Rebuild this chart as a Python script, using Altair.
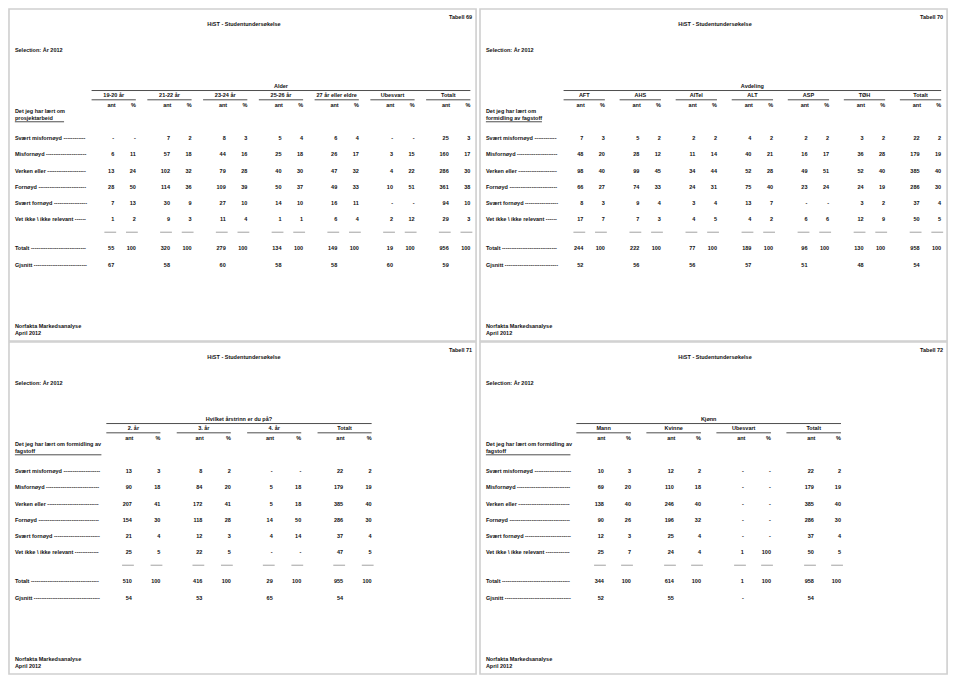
import altair as alt
import pandas as pd

# ---------------- data ----------------
row_labels = ["Svært misfornøyd", "Misfornøyd", "Verken eller", "Fornøyd",
              "Svært fornøyd", "Vet ikke \\ ikke relevant"]
total_label = "Totalt"
mean_label = "Gjsnitt"
report_title = "HiST - Studentundersøkelse"
selection_text = "Selection: År 2012"
footer_lines = ["Norfakta Markedsanalyse", "April 2012"]
sub_labels = ["ant", "%"]

t69_number = "Tabell 69"
t69_header = "Alder"
t69_stub = ["Det jeg har lært om", "prosjektarbeid"]
t69_groups = ["19-20 år", "21-22 år", "23-24 år", "25-26 år", "27 år eller eldre", "Ubesvart", "Totalt"]
t69_ant = [[None, 7, 8, 5, 6, None, 25],
           [6, 57, 44, 25, 26, 3, 160],
           [13, 102, 79, 40, 47, 4, 286],
           [28, 114, 109, 50, 49, 10, 361],
           [7, 30, 27, 14, 16, None, 94],
           [1, 9, 11, 1, 6, 2, 29]]
t69_pct = [[None, 2, 3, 4, 4, None, 3],
           [11, 18, 16, 18, 17, 15, 17],
           [24, 32, 28, 30, 32, 22, 30],
           [50, 36, 39, 37, 33, 51, 38],
           [13, 9, 10, 10, 11, None, 10],
           [2, 3, 4, 1, 4, 12, 3]]
t69_total = [55, 320, 279, 134, 149, 19, 956]
t69_mean = [67, 58, 60, 58, 58, 60, 59]

t70_number = "Tabell 70"
t70_header = "Avdeling"
t70_stub = ["Det jeg har lært om", "formidling av fagstoff"]
t70_groups = ["AFT", "AHS", "AITel", "ALT", "ASP", "TØH", "Totalt"]
t70_ant = [[7, 5, 2, 4, 2, 3, 22],
           [48, 28, 11, 40, 16, 36, 179],
           [98, 99, 34, 52, 49, 52, 385],
           [66, 74, 24, 75, 23, 24, 286],
           [8, 9, 3, 13, None, 3, 37],
           [17, 7, 4, 4, 6, 12, 50]]
t70_pct = [[3, 2, 2, 2, 2, 2, 2],
           [20, 12, 14, 21, 17, 28, 19],
           [40, 45, 44, 28, 51, 40, 40],
           [27, 33, 31, 40, 24, 19, 30],
           [3, 4, 4, 7, None, 2, 4],
           [7, 3, 5, 2, 6, 9, 5]]
t70_total = [244, 222, 77, 189, 96, 130, 958]
t70_mean = [52, 56, 56, 57, 51, 48, 54]

t71_number = "Tabell 71"
t71_header = "Hvilket årstrinn er du på?"
t71_stub = ["Det jeg har lært om formidling av", "fagstoff"]
t71_groups = ["2. år", "3. år", "4. år", "Totalt"]
t71_ant = [[13, 8, None, 22],
           [90, 84, 5, 179],
           [207, 172, 5, 385],
           [154, 118, 14, 286],
           [21, 12, 4, 37],
           [25, 22, None, 47]]
t71_pct = [[3, 2, None, 2],
           [18, 20, 18, 19],
           [41, 41, 18, 40],
           [30, 28, 50, 30],
           [4, 3, 14, 4],
           [5, 5, None, 5]]
t71_total = [510, 416, 29, 955]
t71_mean = [54, 53, 65, 54]

t72_number = "Tabell 72"
t72_header = "Kjønn"
t72_stub = ["Det jeg har lært om formidling av", "fagstoff"]
t72_groups = ["Mann", "Kvinne", "Ubesvart", "Totalt"]
t72_ant = [[10, 12, None, 22],
           [69, 110, None, 179],
           [138, 246, None, 385],
           [90, 196, None, 286],
           [12, 25, None, 37],
           [25, 24, 1, 50]]
t72_pct = [[3, 2, None, 2],
           [20, 18, None, 19],
           [40, 40, None, 40],
           [26, 32, None, 30],
           [3, 4, None, 4],
           [7, 4, 100, 5]]
t72_total = [344, 614, 1, 958]
t72_mean = [52, 55, None, 54]

# ---------------- layout ----------------
REF_W, REF_H = 960, 684
W, H = 944, 668
SX = W / REF_W
FONT = "Liberation Sans"
FS = 5.5
WEIGHT = "bold"
TXT = "#111111"

tables = [
    dict(number=t69_number, header=t69_header, stub=t69_stub, groups=t69_groups,
         ant=t69_ant, pct=t69_pct, total=t69_total, mean=t69_mean,
         ox=0, oy=0, ant0=108, pct0=130, dx=56.7, uoff=23, lead_end=82, stub_end=57),
    dict(number=t70_number, header=t70_header, stub=t70_stub, groups=t70_groups,
         ant=t70_ant, pct=t70_pct, total=t70_total, mean=t70_mean,
         ox=479, oy=0, ant0=106, pct0=128, dx=57, uoff=20, lead_end=82, stub_end=64),
    dict(number=t71_number, header=t71_header, stub=t71_stub, groups=t71_groups,
         ant=t71_ant, pct=t71_pct, total=t71_total, mean=t71_mean,
         ox=0, oy=341, ant0=126, pct0=155, dx=71.6, uoff=26, lead_end=95.5, stub_end=95),
    dict(number=t72_number, header=t72_header, stub=t72_stub, groups=t72_groups,
         ant=t72_ant, pct=t72_pct, total=t72_total, mean=t72_mean,
         ox=479, oy=341, ant0=127, pct0=154.5, dx=71.2, uoff=28, lead_end=95.5, stub_end=93),
]

P = dict(tab_y=9, title_y=16, sel_y=43, hdr_y=80, hdr_line_y=84.5, grp_y=89.5,
         grp_line_y=94, sub_y=99.5, stub_y=[105.8, 112.8], stub_line_y=116.5,
         row_y0=133.3, row_dy=16.6, foot_y=[326, 333],
         label_x=7, tab_right=472, title_cx=240)

# Helvetica-Bold / Arial Bold advance widths (per 1000 em)
AW = {" ": 278, "-": 333, "\\": 278, "a": 556, "b": 611, "c": 556, "d": 611, "e": 556,
      "f": 333, "g": 611, "h": 611, "i": 278, "j": 278, "k": 556, "l": 278, "m": 889,
      "n": 611, "o": 611, "p": 611, "r": 389, "s": 556, "t": 333, "u": 611, "v": 556,
      "y": 556, "æ": 889, "ø": 611, "å": 556, "F": 611, "G": 778, "M": 833, "S": 667,
      "T": 611, "V": 667}


def text_width(s):
    return sum(AW.get(c, 556) for c in s) * FS / 1000 / SX


def fmt(v):
    return "-" if v is None else str(v)


texts = []   # x, y, text, align
rules = []   # x, x2, y, color, sw


def T(x, y, s, align="left"):
    texts.append(dict(x=x, y=y, text=s, align=align))


def R(x, x2, y, color="#3a3a3a", sw=0.9):
    rules.append(dict(x=x, x2=x2, y=y, color=color, sw=sw))


for t in tables:
    ox, oy = t["ox"], t["oy"]
    n = len(t["groups"])
    ant_r = [ox + t["ant0"] + t["dx"] * i for i in range(n)]
    pct_r = [ox + t["pct0"] + t["dx"] * i for i in range(n)]
    lx = ox + P["label_x"]
    # page heading
    T(ox + P["tab_right"], oy + P["tab_y"], t["number"], "right")
    T(ox + P["title_cx"], oy + P["title_y"], report_title, "center")
    T(lx, oy + P["sel_y"], selection_text)
    for k, s in enumerate(footer_lines):
        T(lx, oy + P["foot_y"][k], s)
    # column header
    g0 = ant_r[0] - t["uoff"]
    g1 = pct_r[-1]
    T((g0 + g1) / 2, oy + P["hdr_y"], t["header"], "center")
    R(g0, g1, oy + P["hdr_line_y"])
    for i, g in enumerate(t["groups"]):
        a = ant_r[i] - t["uoff"]
        T((a + pct_r[i]) / 2, oy + P["grp_y"], g, "center")
        R(a, pct_r[i], oy + P["grp_line_y"])
        T(ant_r[i] + 1.5, oy + P["sub_y"], sub_labels[0], "right")
        T(pct_r[i], oy + P["sub_y"], sub_labels[1], "right")
    # stub header
    for k, s in enumerate(t["stub"]):
        T(lx, oy + P["stub_y"][k], s)
    R(lx, ox + t["stub_end"], oy + P["stub_line_y"], "#222222", 0.8)

    def leader(label):
        room = ox + t["lead_end"] - lx - text_width(label + "  ")
        return label + "  " + "-" * max(0, int(room / text_width("-")))

    # body rows
    for r, lab in enumerate(row_labels):
        y = oy + P["row_y0"] + P["row_dy"] * r
        T(lx, y, leader(lab))
        for i in range(n):
            T(ant_r[i], y, fmt(t["ant"][r][i]), "right")
            T(pct_r[i], y, fmt(t["pct"][r][i]), "right")
    ysep = oy + P["row_y0"] + P["row_dy"] * 5.8
    for i in range(n):
        R(ant_r[i] - 10, ant_r[i] + 2, ysep, "#8a8a8a", 0.8)
        R(pct_r[i] - 10, pct_r[i] + 2, ysep, "#8a8a8a", 0.8)
    ytot = oy + P["row_y0"] + P["row_dy"] * 6.8
    T(lx, ytot, leader(total_label))
    for i in range(n):
        T(ant_r[i], ytot, fmt(t["total"][i]), "right")
        T(pct_r[i], ytot, "100", "right")
    ymean = oy + P["row_y0"] + P["row_dy"] * 7.8
    T(lx, ymean, leader(mean_label))
    for i in range(n):
        T(ant_r[i], ymean, fmt(t["mean"][i]), "right")

page_x = [1, 480]
page_y = [1, 342]
page_w, page_h = 475, 340
pages = [dict(x=px, x2=px + page_w, y=py, y2=py + page_h) for py in page_y for px in page_x]

xs = alt.Scale(domain=[0, REF_W], nice=False, zero=False)
ys = alt.Scale(domain=[0, REF_H], nice=False, zero=False, reverse=True)

tdf = pd.DataFrame(texts)
rdf = pd.DataFrame(rules)
pdf = pd.DataFrame(pages)

frame = alt.Chart(pdf).mark_rect(filled=False, stroke="#cfcfcf", strokeWidth=1.6).encode(
    x=alt.X("x:Q", scale=xs, axis=None), x2="x2:Q",
    y=alt.Y("y:Q", scale=ys, axis=None), y2="y2:Q")

lines = alt.Chart(rdf).mark_rule().encode(
    x=alt.X("x:Q", scale=xs, axis=None), x2="x2:Q",
    y=alt.Y("y:Q", scale=ys, axis=None),
    color=alt.Color("color:N", scale=None),
    strokeWidth=alt.StrokeWidth("sw:Q", scale=None))


def text_layer(align):
    return alt.Chart(tdf[tdf["align"] == align]).mark_text(
        align=align, baseline="middle", font=FONT, fontSize=FS, fontWeight=WEIGHT,
        color=TXT).encode(
        x=alt.X("x:Q", scale=xs, axis=None),
        y=alt.Y("y:Q", scale=ys, axis=None),
        text="text:N")


chart = alt.layer(frame, lines, text_layer("left"), text_layer("center"), text_layer("right")).properties(
    width=W, height=H, padding=0, background="white",
    autosize=alt.AutoSizeParams(type="none")
).configure_view(strokeWidth=0)

chart.save("out.html", embed_options={"renderer": "svg", "actions": False})
